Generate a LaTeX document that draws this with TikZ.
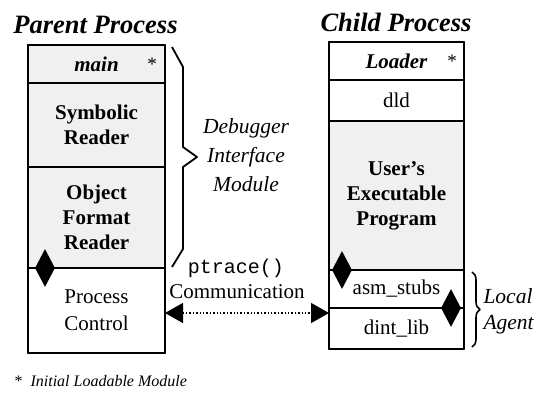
\documentclass[tikz,border=0pt]{standalone}
\usepackage{fontspec}
\setmainfont{Liberation Serif}
\setmonofont{Liberation Mono}
\usetikzlibrary{arrows.meta,shapes.geometric,decorations.pathreplacing}
\definecolor{modgray}{HTML}{F0F0F0}
\tikzset{
  cell/.style={draw, line width=1.2pt, anchor=north west, inner sep=0pt, outer sep=0pt,
    align=center, font=\fontsize{21}{25}\selectfont},
  shaded/.style={fill=modgray},
  outline/.style={line width=2.2pt},
  knob/.style={diamond, fill=black, minimum width=20pt, minimum height=38pt, inner sep=0pt},
  heading/.style={font=\fontsize{26.5}{30}\selectfont\bfseries\itshape, anchor=base},
  star/.style={font=\fontsize{19}{19}\selectfont},
  remark/.style={font=\fontsize{21.5}{29}\selectfont\itshape, align=center},
}
\begin{document}
\begin{tikzpicture}[x=1pt, y=-1pt, line join=round, >=stealth]
  \useasboundingbox (0,0) rectangle (539,394);
  % parent process
  \node[heading] (ptitle) at (95.5,33) {Parent Process};
  \node[cell, shaded, minimum width=137pt, minimum height=38pt] (main) at (28,45) {\textbf{\textit{main}}};
  \node[cell, shaded, minimum width=137pt, minimum height=84pt] (symb) at (28,83) {\textbf{Symbolic}\\\textbf{Reader}};
  \node[cell, shaded, minimum width=137pt, minimum height=101pt] (obj) at (28,167) {\textbf{Object}\\\textbf{Format}\\\textbf{Reader}};
  \node[cell, minimum width=137pt, minimum height=85pt, font=\fontsize{21}{27}\selectfont] (pc) at (28,268) {Process\\Control};
  \draw[outline] (main.north west) rectangle (pc.south east);
  \node[star] (mstar) at (152,64) {*};
  \node[knob] (k1) at (45,268) {};
  % child process
  \node[heading] (ctitle) at (396,31) {Child Process};
  \node[cell, minimum width=135pt, minimum height=38pt] (loader) at (329,42) {\textbf{\textit{Loader}}};
  \node[cell, minimum width=135pt, minimum height=41pt] (dld) at (329,80) {dld};
  \node[cell, shaded, minimum width=135pt, minimum height=149pt] (user) at (329,121) {\textbf{User's}\\\textbf{Executable}\\\textbf{Program}};
  \node[cell, minimum width=135pt, minimum height=38pt] (asm) at (329,270) {asm\_stubs};
  \node[cell, minimum width=135pt, minimum height=41pt] (dint) at (329,308) {dint\_lib};
  \draw[outline] (loader.north west) rectangle (dint.south east);
  \node[star] (lstar) at (452,61) {*};
  \node[knob] (k2) at (342,270) {};
  \node[knob] (k3) at (451,308) {};
  % braces
  \draw[line width=1.8pt] (172,47) -- (183,67) -- (183,147) -- (197,157) -- (183,167) -- (183,249) -- (172,267);
  \node[remark] (dim) at (246,155) {Debugger\\Interface\\Module};
  \draw[line width=1.6pt, decorate, decoration={brace, amplitude=8pt}] (472,272) -- (472,347);
  \node[remark, align=left, anchor=west, font=\fontsize{21.5}{26}\selectfont\itshape] (agent) at (480,311) {Local\\Agent};
  % communication
  \draw[line width=1.4pt, dotted, {Triangle[length=18pt,width=20pt]}-{Triangle[length=18pt,width=20pt]}]
    (pc.east |- 0,313) -- (dint.west |- 0,313);
  \node[font=\fontsize{20}{20}\ttfamily] (ptr) at (236,268) {ptrace()};
  \node[font=\fontsize{21}{21}\selectfont] (comm) at (237,292) {Communication};
  \node[anchor=west, font=\fontsize{16}{16}\selectfont] (foot) at (11,381) {*\ \ \textit{Initial Loadable Module}};
\end{tikzpicture}
\end{document}
